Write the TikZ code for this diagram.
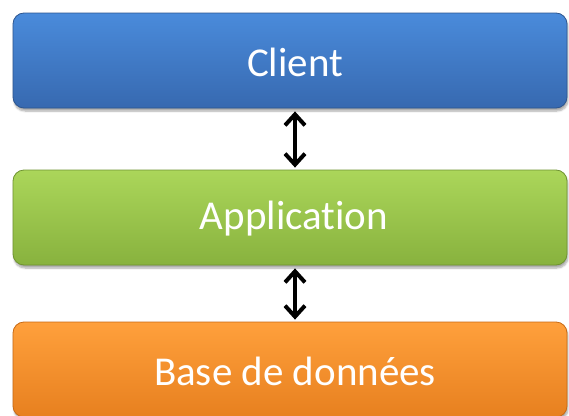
\documentclass[tikz,border=0pt]{standalone}
\usepackage{fontspec}
\setmainfont[Ligatures=NoCommon]{Carlito}
\usetikzlibrary{arrows.meta,shadows.blur}
\definecolor{bluetop}{HTML}{4A8BDB}
\definecolor{bluebot}{HTML}{3769B0}
\definecolor{blueedge}{HTML}{2D5690}
\definecolor{greentop}{HTML}{ABD65A}
\definecolor{greenbot}{HTML}{88B23E}
\definecolor{greenedge}{HTML}{6F9430}
\definecolor{orangetop}{HTML}{FFA03C}
\definecolor{orangebot}{HTML}{E7801F}
\definecolor{orangeedge}{HTML}{C86A14}
\tikzset{
  box/.style={rounded corners=11pt, minimum width=554pt, minimum height=95pt,
    inner sep=0pt, line width=0.8pt, blur shadow={shadow xshift=1pt, shadow yshift=-3pt, shadow blur steps=6, shadow opacity=35}},
  bluebox/.style={box, draw=blueedge, top color=bluetop, bottom color=bluebot},
  greenbox/.style={box, draw=greenedge, top color=greentop, bottom color=greenbot},
  orangebox/.style={box, draw=orangeedge, top color=orangetop, bottom color=orangebot},
  lbl/.style={text=white, font=\fontsize{41}{43}\selectfont, inner sep=0pt},
  tip/.tip={Straight Barb[length=11pt,width=20pt,line width=4pt]}
}
\begin{document}
\begin{tikzpicture}[x=1pt,y=-1pt]
\useasboundingbox (0,0) rectangle (569,415);
\node[bluebox] (client) at (290,60.5) {};
\node[greenbox] (app) at (290,217.5) {};
\node[orangebox] (db) at (290,369.5) {};
\node[lbl] (tclient) at (295,62) {Client};
\node[lbl] (tapp) at (294,219) {Application};
\node[lbl] (tdb) at (295,371) {Base de données};
\draw[line width=4.5pt, black, tip-tip] ([yshift=-3pt]client.south -| tclient) -- ([yshift=2pt]app.north -| tclient);
\draw[line width=4.5pt, black, tip-tip] ([yshift=-3pt]app.south -| tclient) -- ([yshift=2pt]db.north -| tclient);
\end{tikzpicture}
\end{document}
